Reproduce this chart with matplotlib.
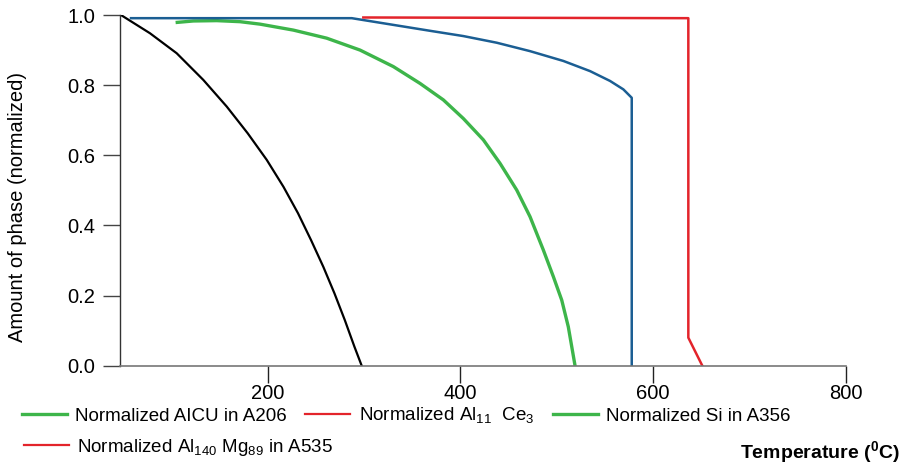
import matplotlib
matplotlib.use('Agg')
import matplotlib.pyplot as plt
from matplotlib.lines import Line2D

plt.rcParams['font.family'] = ['Liberation Sans', 'DejaVu Sans']
plt.rcParams['mathtext.fontset'] = 'custom'
plt.rcParams['mathtext.rm'] = 'Liberation Sans'
plt.rcParams['mathtext.bf'] = 'Liberation Sans:bold'

# curvas (temperatura en C, fraccion normalizada)
negro_t = [48.0, 78.1, 105.8, 133.4, 157.7, 179.4, 199.2, 216.6, 231.6, 245.2, 257.9, 269.5, 280.2, 290.2, 297.7]
negro_v = [1.0, 0.948, 0.891, 0.815, 0.739, 0.663, 0.587, 0.510, 0.435, 0.358, 0.282, 0.206, 0.130, 0.054, 0.0]

verde_t = [106.4, 123.0, 147.3, 171.5, 192.2, 226.8, 261.4, 296.0, 330.5, 358.2, 382.4, 403.1, 423.9,
           441.2, 458.5, 472.3, 486.1, 496.5, 505.2, 512.0, 519.0]
verde_v = [0.979, 0.983, 0.984, 0.981, 0.974, 0.957, 0.934, 0.900, 0.853, 0.805, 0.758, 0.705, 0.644,
           0.577, 0.501, 0.425, 0.330, 0.254, 0.187, 0.111, 0.0]

azul_t = [58.4, 287.4, 316.7, 368.6, 403.1, 437.8, 472.3, 506.9, 534.6, 555.3, 569.1, 577.8, 577.8]
azul_v = [0.991, 0.991, 0.978, 0.955, 0.940, 0.921, 0.897, 0.869, 0.840, 0.812, 0.788, 0.764, 0.0]

rojo_t = [299.4, 636.5, 636.5, 651.0]
rojo_v = [0.993, 0.991, 0.080, 0.0]

xticks = [200, 400, 600, 800]
yticks = [0.0, 0.2, 0.4, 0.6, 0.8, 1.0]

etiquetas_fila1 = ['Normalized AICU in A206', r'Normalized Al$_{11}$  Ce$_{3}$', 'Normalized Si in A356']
colores_fila1 = ['#3db54a', '#e3242b', '#3db54a']
etiqueta_fila2 = r'Normalized Al$_{140}$ Mg$_{89}$ in A535'

verde = '#3db54a'
rojo = '#e3242b'
azul = '#1b5e93'

fig = plt.figure(figsize=(9.07, 4.65), dpi=100)
ax = fig.add_axes([0.1323, 0.2135, 0.8004, 0.7542])

ax.plot(negro_t, negro_v, color='black', lw=1.6)
ax.plot(verde_t, verde_v, color=verde, lw=2.4)
ax.plot(azul_t, azul_v, color=azul, lw=1.8)
ax.plot(rojo_t, rojo_v, color=rojo, lw=1.8)

ax.set_xlim(47, 800)
ax.set_ylim(0, 1.0)
ax.set_xticks(xticks)
ax.set_yticks(yticks)
ax.set_yticklabels(['%.1f' % v for v in yticks])

for s in ['top', 'right']:
    ax.spines[s].set_visible(False)
ax.spines['left'].set_color('#333333')
ax.spines['bottom'].set_color('#777777')
ax.spines['left'].set_linewidth(1.0)
ax.spines['bottom'].set_linewidth(1.2)

ax.tick_params(axis='x', length=12, width=1.0, color='#222222', labelsize=14.5, pad=1)
ax.tick_params(axis='y', length=12, width=1.0, color='#444444', labelsize=14.5, pad=6)

ax.set_ylabel('Amount of phase (normalized)', fontsize=14.5)
ax.yaxis.set_label_coords(-0.128, 0.453)

# leyenda (dos filas separadas)
h1 = [Line2D([], [], color=c, lw=2.4 if c == verde else 1.6) for c in colores_fila1]
fig.legend(h1, etiquetas_fila1, loc='center left', bbox_to_anchor=(21.7 / 907, 1 - 416 / 465),
           ncol=3, frameon=False, fontsize=13.5, handlelength=2.4, handletextpad=0.44,
           columnspacing=1.0, borderpad=0, borderaxespad=0)
h2 = [Line2D([], [], color=rojo, lw=1.6)]
fig.legend(h2, [etiqueta_fila2], loc='center left', bbox_to_anchor=(24 / 907, 1 - 447 / 465),
           frameon=False, fontsize=13.5, handlelength=2.4, handletextpad=0.44,
           borderpad=0, borderaxespad=0)

fig.text(900 / 907, 1 - 453 / 465, r'Temperature ($^{\mathbf{0}}$C)', fontsize=14,
         fontweight='bold', ha='right', va='center')

fig.savefig('out.png', dpi=100)
